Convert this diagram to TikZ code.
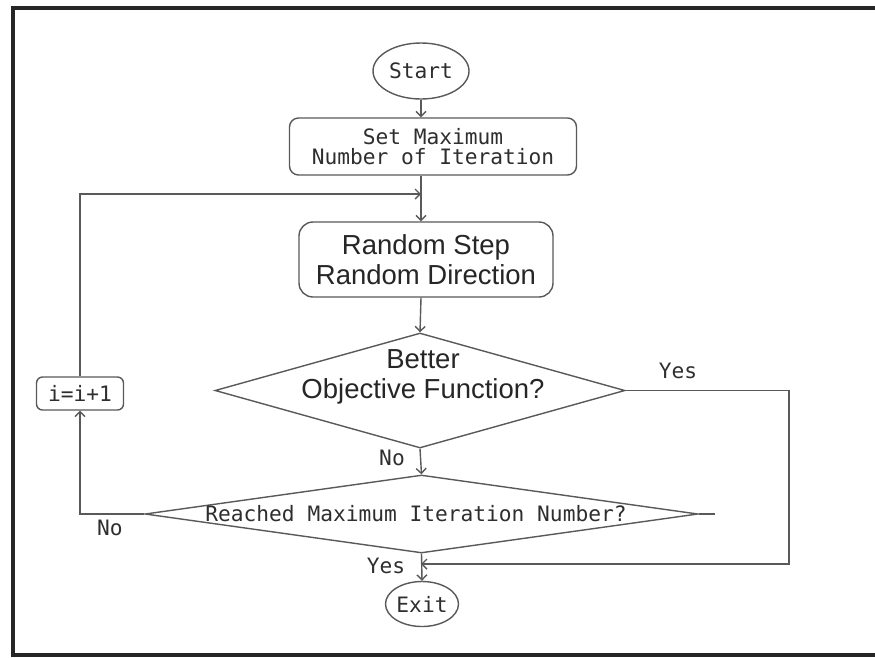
\documentclass[tikz,border=0pt]{standalone}
\usepackage{fontspec}
\setmainfont{Liberation Sans}
\newfontfamily\monofont{DejaVu Sans Mono}
\usetikzlibrary{shapes.geometric,arrows.meta}
\begin{document}
\begin{tikzpicture}[x=1pt,y=-1pt,
  line/.style={draw=black!65, line width=1.4pt},
  arr/.style={line, -{Straight Barb[length=5pt,width=10pt]}},
  mono/.style={font=\monofont\fontsize{21.2}{20.5}\selectfont, text=black!82},
  sans/.style={font=\fontsize{27.5}{30.5}\selectfont, text=black!85},
  shapeline/.style={draw=black!65, line width=1.4pt, fill=white},
  lbl/.style={mono, inner sep=0pt}
]
\useasboundingbox (0,0) rectangle (875,657);
\draw[line width=3.5pt, black!85] (13,657) -- (13,8) -- (875,8);
\draw[line width=3.5pt, black!85] (13,655) -- (875,655);

\coordinate (axis) at (421,0);

\node[ellipse, shapeline, minimum width=96pt, minimum height=56pt, mono, inner sep=0pt] (start) at (421,71) {Start};
\node[shapeline, rounded corners=9pt, minimum width=287pt, minimum height=57pt, mono, align=center] (set) at (433,146.5) {Set Maximum\\Number of Iteration};
\node[shapeline, rounded corners=14pt, minimum width=254pt, minimum height=75pt, sans, align=center] (rand) at (426,259.5) {Random Step\\Random Direction};
\node[diamond, shapeline, minimum width=410pt, minimum height=115pt, inner sep=0pt] (d1) at (420,390.5) {};
\node[sans, align=center] (d1t) at (423,377) {Better\\Objective Function?};
\node[diamond, shapeline, minimum width=553pt, minimum height=78pt, inner sep=0pt] (d2) at (421.5,514) {};
\node[mono] (d2t) at (416,514) {Reached Maximum Iteration Number?};
\node[ellipse, shapeline, minimum width=73pt, minimum height=45pt, mono, inner sep=0pt] (exit) at (422,604) {Exit};
\node[shapeline, rounded corners=6pt, minimum width=87pt, minimum height=33pt, mono] (inc) at (80,393.5) {i=i+1};

\coordinate (join) at (421,194);
\coordinate (yesc) at (789,564);
\coordinate (yesj) at (421,564);
\coordinate (stub) at (715,514);

\draw[arr] (start.south) -- (axis |- set.north);
\draw[arr] (axis |- set.south) -- (axis |- rand.north);
\draw[arr] (inc.north) |- (join);
\draw[arr] (axis |- rand.south) -- (d1.north);
\draw[arr] (d1.south) -- (d2.north);
\draw[arr] (d1.east) -| (yesc) -- (yesj);
\draw[arr] (d2.south) -- (exit.north);
\draw[arr] (d2.west) -| (inc.south);
\draw[line] (d2.east) -- (stub);

\node[lbl] (lyes1) at (678,371) {Yes};
\node[lbl] (lno1) at (392,458) {No};
\node[lbl] (lno2) at (110,528) {No};
\node[lbl] (lyes2) at (386,566) {Yes};
\end{tikzpicture}
\end{document}
